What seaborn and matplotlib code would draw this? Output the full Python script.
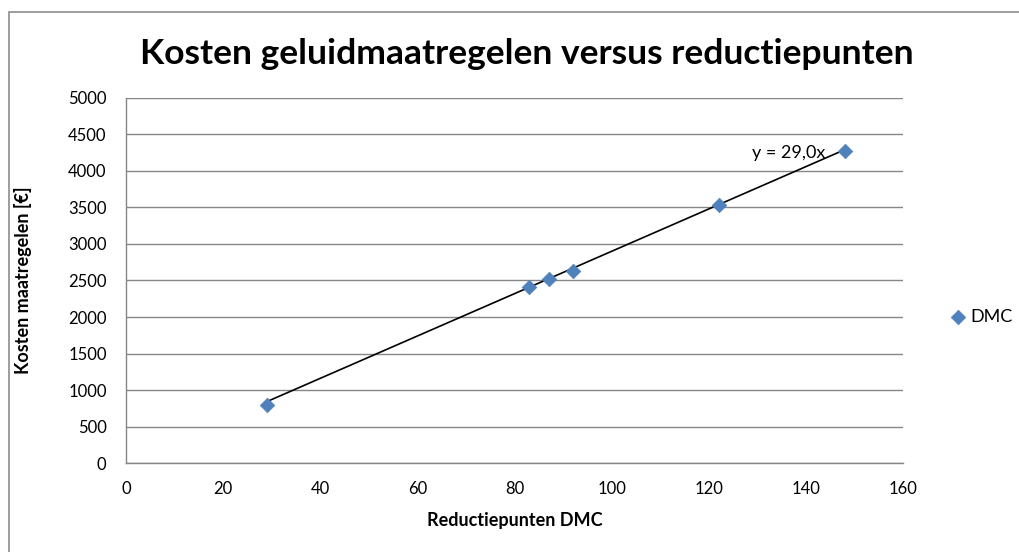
import numpy as np
import pandas as pd
import matplotlib
matplotlib.use("Agg")
import matplotlib.pyplot as plt
import matplotlib.patches as patches
import seaborn as sns

# ---- data ----
reductiepunten = [29, 83, 87, 92, 122, 148]
kosten = [795, 2407, 2521, 2634, 3534, 4274]
trend_slope = 29.0  # from trendline label, fit through origin

x_ticks = [0, 20, 40, 60, 80, 100, 120, 140, 160]
y_ticks = [0, 500, 1000, 1500, 2000, 2500, 3000, 3500, 4000, 4500, 5000]

df = pd.DataFrame({"Reductiepunten DMC": reductiepunten,
                   "Kosten maatregelen [€]": kosten})

sns.set_theme(style="white")
plt.rcParams["font.family"] = ["Lato", "DejaVu Sans"]
plt.rcParams["text.color"] = "black"
plt.rcParams["axes.labelcolor"] = "black"

grid_col = "#868686"
blue = "#4F81BD"

fig = plt.figure(figsize=(10.19, 5.52), dpi=100)
ax = fig.add_axes([0.1237, 0.1612, 0.8862 - 0.1237, 0.8225 - 0.1612])

# trendline y = a*x
tx = np.array([min(reductiepunten), max(reductiepunten)])
ax.plot(tx, trend_slope * tx, color="black", lw=1.2, zorder=2)

sns.scatterplot(data=df, x="Reductiepunten DMC", y="Kosten maatregelen [€]",
                marker="D", s=55, color=blue, edgecolor=blue, linewidth=0.5,
                label="DMC", ax=ax, zorder=3)

label = "y = " + f"{trend_slope:.1f}".replace(".", ",") + "x"
ax.text(144, 4240, label, ha="right", va="center", fontsize=13, color="black")

ax.set_xlim(0, 160)
ax.set_ylim(0, 5000)
ax.set_xticks(x_ticks)
ax.set_yticks(y_ticks)
ax.yaxis.grid(True, color=grid_col, lw=1)
ax.xaxis.grid(False)
ax.set_axisbelow(True)

for s in ["top", "right"]:
    ax.spines[s].set_visible(False)
for s in ["left", "bottom"]:
    ax.spines[s].set_color(grid_col)
    ax.spines[s].set_linewidth(1)

ax.tick_params(axis="both", which="major", direction="out", length=4,
               width=1, color=grid_col, labelsize=12, labelcolor="black")
ax.tick_params(axis="x", pad=9)
ax.tick_params(axis="y", pad=10)

ax.set_xlabel("Reductiepunten DMC", fontsize=13, fontweight="bold", labelpad=11)
ax.set_ylabel("Kosten maatregelen [€]", fontsize=13, fontweight="bold", labelpad=26)

fig.text(0.517, 0.903, "Kosten geluidmaatregelen versus reductiepunten",
         ha="center", va="center", fontsize=25.5, fontweight="bold", color="black")

fig.legend(*ax.get_legend_handles_labels(), loc="center left",
           bbox_to_anchor=(0.931, 0.426), frameon=False, fontsize=13,
           handlelength=1.0, handletextpad=0.2, borderpad=0, borderaxespad=0,
           labelcolor="black")
ax.get_legend().remove()

# chart area border
fig.patches.append(patches.Rectangle((9 / 1019, -0.05), 1.2, 1 - 12 / 552 + 0.05,
                                     transform=fig.transFigure, fill=False,
                                     edgecolor="#8c8c8c", lw=1.2))

fig.savefig("out.png", dpi=100)
